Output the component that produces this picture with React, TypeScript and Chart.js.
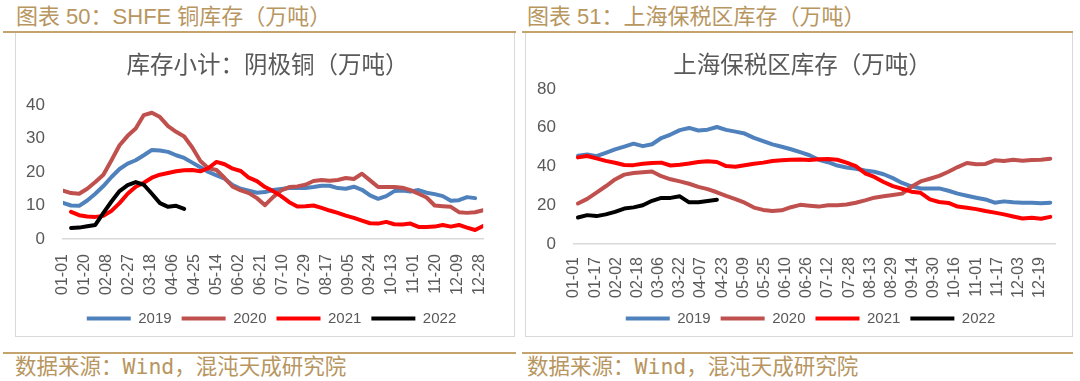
import React, { useEffect, useRef } from 'react';
import { Chart, registerables } from 'chart.js';

Chart.register(...registerables);

// ---------- data ----------
const YEARS = ['2019', '2020', '2021', '2022'];
const COLORS = ['#4f81bd', '#c0504d', '#ff0000', '#000000'];

const LEFT_TITLE = '库存小计：阴极铜（万吨）';
const RIGHT_TITLE = '上海保税区库存（万吨）';
const LEFT_HEADER = '图表 50：SHFE 铜库存（万吨）';
const RIGHT_HEADER = '图表 51：上海保税区库存（万吨）';
const SOURCE = '数据来源：Wind，混沌天成研究院';

const LEFT_TICKS = ['01-01', '01-20', '02-08', '02-27', '03-18', '04-06', '04-25', '05-14', '06-02', '06-21', '07-10', '07-29', '08-17', '09-05', '09-24', '10-13', '11-01', '11-20', '12-09', '12-28'];
const RIGHT_TICKS = ['01-01', '01-17', '02-02', '02-18', '03-06', '03-22', '04-07', '04-23', '05-09', '05-25', '06-10', '06-26', '07-12', '07-28', '08-13', '08-29', '09-14', '09-30', '10-16', '11-01', '11-17', '12-03', '12-19'];

// SHFE weekly cathode copper stocks (10k t)
const L_2019 = [10.8, 10.0, 9.9, 11.5, 13.5, 15.8, 18.5, 20.9, 22.5, 23.5, 25.0, 26.6, 26.4, 26.0, 25.0, 24.2, 22.8, 21.4, 20.0, 19.0, 18.0, 16.1, 15.0, 14.4, 13.8, 14.0, 14.6, 14.9, 15.2, 15.2, 15.2, 15.5, 15.9, 15.9, 15.2, 15.0, 15.6, 14.7, 13.0, 12.0, 12.8, 14.3, 14.5, 14.2, 14.6, 13.8, 13.4, 12.8, 11.4, 11.6, 12.5, 12.2];
const L_2020 = [14.4, 13.7, 13.5, 15.0, 17.0, 19.2, 23.5, 28.0, 30.8, 33.0, 37.0, 37.7, 36.4, 33.7, 32.0, 30.6, 27.3, 23.3, 21.1, 20.6, 18.2, 15.6, 14.5, 13.7, 12.2, 10.1, 12.5, 14.5, 15.5, 15.7, 16.2, 17.3, 17.6, 17.4, 17.6, 18.2, 17.9, 19.5, 17.5, 15.5, 15.5, 15.5, 15.3, 14.6, 13.5, 12.4, 10.0, 9.8, 9.6, 8.0, 7.8, 8.0, 8.6];
const L_2021 = [null, 8.1, 7.1, 6.7, 6.6, 6.9, 8.4, 10.7, 13.5, 15.6, 16.8, 18.3, 19.2, 19.7, 20.2, 20.5, 20.6, 20.2, 21.2, 23.0, 22.3, 21.0, 20.3, 18.3, 17.3, 15.5, 14.3, 12.8, 11.0, 9.7, 9.8, 10.0, 9.3, 8.5, 7.8, 7.0, 6.3, 5.5, 4.7, 4.6, 5.1, 4.4, 4.3, 4.6, 3.6, 3.6, 3.7, 4.2, 3.7, 4.2, 3.4, 2.7, 3.9];
const L_2022 = [null, 3.3, 3.4, 3.8, 4.2, 7.8, 11.2, 14.3, 16.1, 17.0, 16.2, 13.5, 10.7, 9.6, 9.9, 9.0];

// Shanghai bonded-zone stocks (10k t)
const R_2019 = [45.6, 46.2, 45.3, 47.0, 48.8, 50.3, 51.8, 50.5, 51.5, 54.7, 56.5, 58.8, 59.9, 58.6, 59.0, 60.4, 58.9, 58.0, 57.0, 54.8, 53.1, 51.4, 50.2, 48.9, 47.4, 45.8, 43.5, 42.2, 40.5, 39.5, 38.8, 37.9, 37.3, 36.0, 34.0, 31.5, 29.8, 28.7, 28.7, 28.7, 27.5, 26.0, 24.9, 23.9, 23.0, 21.3, 22.0, 21.5, 21.3, 21.3, 21.0, 21.3];
const R_2020 = [20.9, 23.3, 26.5, 29.8, 33.3, 35.8, 36.6, 37.0, 37.4, 35.0, 33.4, 32.3, 31.1, 29.5, 28.3, 26.7, 24.8, 23.2, 21.3, 18.8, 17.6, 17.0, 17.4, 19.0, 20.2, 19.8, 19.3, 20.0, 20.0, 20.4, 21.3, 22.5, 23.9, 24.6, 25.3, 26.0, 29.5, 32.3, 33.7, 35.2, 37.3, 39.7, 41.8, 41.2, 41.3, 43.2, 42.8, 43.5, 43.0, 43.3, 43.5, 44.0];
const R_2021 = [44.7, 45.4, 44.2, 42.9, 41.9, 40.8, 40.7, 41.4, 41.8, 42.0, 40.5, 40.9, 41.5, 42.3, 42.7, 42.3, 40.2, 39.9, 40.6, 41.4, 42.0, 42.8, 43.2, 43.5, 43.6, 43.3, 43.8, 43.9, 43.5, 42.0, 40.2, 36.5, 34.6, 32.0, 29.9, 28.5, 27.0, 26.4, 23.0, 21.7, 21.2, 19.3, 18.7, 18.0, 17.0, 16.2, 15.3, 14.2, 13.2, 13.5, 13.0, 14.0];
const R_2022 = [13.7, 14.9, 14.4, 15.3, 16.6, 18.3, 18.9, 20.0, 22.3, 23.8, 23.8, 24.6, 21.5, 21.6, 22.2, 22.8];

const LEFT_SERIES = [L_2019, L_2020, L_2021, L_2022];
const RIGHT_SERIES = [R_2019, R_2020, R_2021, R_2022];

// ---------- helpers ----------
const CUM_DAYS = [0, 31, 59, 90, 120, 151, 181, 212, 243, 273, 304, 334];
function dayOfYear(mmdd: string): number {
  const [m, d] = mmdd.split('-').map(Number);
  return CUM_DAYS[m - 1] + d - 1;
}

const TICK_FONT = "'Liberation Sans', Arial, 'Noto Sans CJK SC', sans-serif";
const CJK_FONT = "'Noto Sans CJK SC', 'Liberation Sans', sans-serif";
const HEAD_FONT = "'Liberation Sans', 'Noto Sans CJK SC', sans-serif";
const FOOT_FONT = "'DejaVu Sans Mono', 'Noto Sans CJK SC', monospace";
const GRAY = '#595959';
const GOLD_TEXT = '#b8965f';
const GOLD_LINE = '#c4a36c';

const shiftPlugin = {
  id: 'shiftBoxes',
  afterLayout(chart: any, _args: any, opts: any) {
    const t = chart.titleBlock;
    if (t && opts.titleDx) {
      t.left += opts.titleDx;
      t.right += opts.titleDx;
    }
    const l = chart.legend;
    if (l && opts.legendDx) {
      l.left += opts.legendDx;
      l.right += opts.legendDx;
    }
  },
};

type PanelProps = {
  width: number;
  height: number;
  title: string;
  series: (number | null)[][];
  startDay: number;
  ticks: string[];
  yMax: number;
  yStep: number;
  yWidth: number;
  xHeight: number;
  padRight: number;
  titleTop: number;
  titleBottom: number;
  xPad: number;
  titleDx: number;
  legendDx: number;
};

function Panel(p: PanelProps) {
  const ref = useRef<HTMLCanvasElement | null>(null);
  useEffect(() => {
    if (!ref.current) return;
    const tickDays = p.ticks.map(dayOfYear);
    const labelMap: Record<number, string> = {};
    p.ticks.forEach((t, i) => (labelMap[tickDays[i]] = t));
    const chart = new Chart(ref.current, {
      type: 'line',
      data: {
        datasets: p.series.map((vals, k) => ({
          label: YEARS[k],
          data: vals.map((v, i) => ({ x: p.startDay + 7 * i, y: v })),
          borderColor: COLORS[k],
          backgroundColor: COLORS[k],
          borderWidth: 4,
          pointRadius: 0,
          pointHoverRadius: 0,
          pointStyle: 'line',
          borderCapStyle: 'round',
          borderJoinStyle: 'round',
          tension: 0,
          fill: false,
          order: 3 - k,
        })),
      },
      plugins: [shiftPlugin],
      options: {
        responsive: false,
        maintainAspectRatio: false,
        animation: false,
        events: [],
        layout: { padding: { left: 0, right: p.padRight, top: 0, bottom: 0 } },
        plugins: {
          tooltip: { enabled: false },
          shiftBoxes: { titleDx: p.titleDx, legendDx: p.legendDx },
          title: {
            display: true,
            text: p.title,
            color: GRAY,
            font: { family: CJK_FONT, size: 23.5, weight: 'normal' },
            padding: { top: p.titleTop, bottom: p.titleBottom },
          },
          legend: {
            display: true,
            position: 'bottom',
            labels: {
              usePointStyle: true,
              pointStyleWidth: 44,
              color: GRAY,
              font: { family: TICK_FONT, size: 15 },
              padding: 10,
              sort: (a: any, b: any) => a.datasetIndex - b.datasetIndex,
            },
          },
        },
        scales: {
          x: {
            type: 'linear',
            min: 0,
            max: 364,
            grid: { display: false, drawTicks: false },
            border: { display: true, color: '#d9d9d9', width: 1.5 },
            afterBuildTicks: (scale: any) => {
              scale.ticks = tickDays.map((v) => ({ value: v }));
            },
            afterFit: (scale: any) => {
              scale.height = p.xHeight;
            },
            ticks: {
              autoSkip: false,
              maxRotation: 90,
              minRotation: 90,
              padding: p.xPad,
              color: GRAY,
              font: { family: TICK_FONT, size: 16 },
              callback: (value: any) => labelMap[value as number] ?? '',
            },
          },
          y: {
            min: 0,
            max: p.yMax,
            grid: { display: false, drawTicks: false },
            border: { display: false },
            afterFit: (scale: any) => {
              scale.width = p.yWidth;
            },
            ticks: {
              stepSize: p.yStep,
              padding: 18,
              color: GRAY,
              font: { family: TICK_FONT, size: 17 },
            },
          },
        },
      } as any,
    });
    return () => chart.destroy();
  }, []);
  return <canvas ref={ref} width={p.width} height={p.height} style={{ width: p.width, height: p.height, display: 'block' }} />;
}

const abs = (l: number, t: number, w: number, h: number): React.CSSProperties => ({
  position: 'absolute',
  left: l,
  top: t,
  width: w,
  height: h,
});

export default function App() {
  return (
    <div style={{ position: 'fixed', left: 0, top: 0, width: 1080, height: 381, background: '#fff', overflow: 'hidden' }}>
      {/* headers */}
      <div style={{ ...abs(16, 3, 500, 28), color: GOLD_TEXT, fontFamily: HEAD_FONT, fontSize: 22, lineHeight: '28px', whiteSpace: 'nowrap' }}>{LEFT_HEADER}</div>
      <div style={{ ...abs(527, 3, 540, 28), color: GOLD_TEXT, fontFamily: HEAD_FONT, fontSize: 22, lineHeight: '28px', whiteSpace: 'nowrap' }}>{RIGHT_HEADER}</div>
      <div style={{ ...abs(3, 31, 513, 2), background: GOLD_LINE }} />
      <div style={{ ...abs(522, 31, 551, 2), background: GOLD_LINE }} />

      {/* chart boxes */}
      <div style={{ ...abs(15, 33, 500, 304), boxSizing: 'border-box', borderLeft: '1px solid #d9d9d9', borderRight: '1px solid #d9d9d9', borderBottom: '1px solid #d9d9d9' }} />
      <div style={{ ...abs(525, 33, 548, 304), boxSizing: 'border-box', borderLeft: '1px solid #d9d9d9', borderRight: '1px solid #d9d9d9', borderBottom: '1px solid #d9d9d9' }} />

      <div style={abs(16, 34, 498, 302)}>
        <Panel width={498} height={302} title={LEFT_TITLE} series={LEFT_SERIES} startDay={0} ticks={LEFT_TICKS}
          yMax={40} yStep={10} yWidth={47} xHeight={62} padRight={11} titleTop={15.9} titleBottom={26.9} xPad={15}
          titleDx={8} legendDx={12} />
      </div>
      <div style={abs(526, 34, 546, 302)}>
        <Panel width={546} height={302} title={RIGHT_TITLE} series={RIGHT_SERIES} startDay={3} ticks={RIGHT_TICKS}
          yMax={80} yStep={20} yWidth={48} xHeight={57} padRight={3} titleTop={15.9} titleBottom={10.9} xPad={13}
          titleDx={5} legendDx={13} />
      </div>

      {/* footers */}
      <div style={{ ...abs(3, 352, 513, 2), background: GOLD_LINE }} />
      <div style={{ ...abs(522, 352, 551, 2), background: GOLD_LINE }} />
      <div style={{ ...abs(15, 354, 500, 26), color: GOLD_TEXT, fontFamily: FOOT_FONT, fontSize: 21.5, lineHeight: '26px', whiteSpace: 'nowrap' }}>{SOURCE}</div>
      <div style={{ ...abs(527, 354, 540, 26), color: GOLD_TEXT, fontFamily: FOOT_FONT, fontSize: 21.5, lineHeight: '26px', whiteSpace: 'nowrap' }}>{SOURCE}</div>
    </div>
  );
}
